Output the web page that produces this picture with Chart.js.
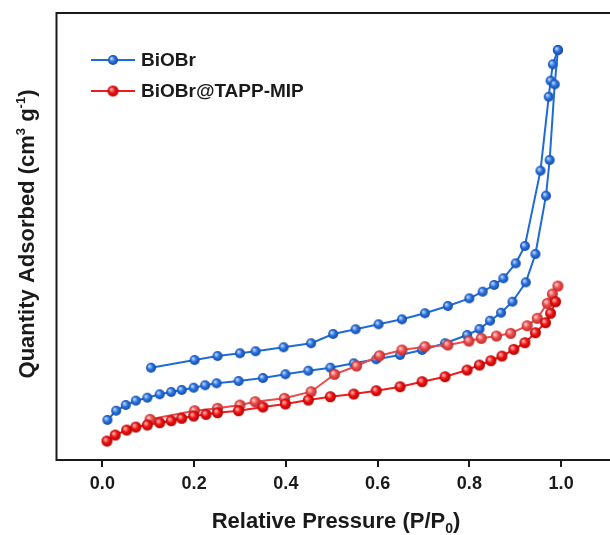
<!DOCTYPE html>
<html>
<head>
<meta charset="utf-8">
<script src="https://cdn.jsdelivr.net/npm/chart.js@4.4.1/dist/chart.umd.min.js"></script>
<style>
  html, body { margin: 0; padding: 0; background: #fff; overflow: hidden; }
  #wrap { width: 614px; height: 535px; }
</style>
</head>
<body>
<div id="wrap"><canvas id="c" width="614" height="535"></canvas></div>
<script>
// N2 adsorption-desorption isotherms (relative pressure vs. quantity adsorbed)
const seriesNames = ['BiOBr', 'BiOBr@TAPP-MIP'];
const xTicks = [0.0, 0.2, 0.4, 0.6, 0.8, 1.0];

// BiOBr - adsorption branch
const biobrAdsP = [0.011, 0.030, 0.051, 0.073, 0.098, 0.125, 0.150, 0.173, 0.199, 0.224, 0.249, 0.297, 0.350, 0.399,
  0.449, 0.497, 0.548, 0.597, 0.649, 0.697, 0.747, 0.795, 0.822, 0.845, 0.869, 0.894, 0.923, 0.944, 0.967, 0.975, 0.986, 0.993];
const biobrAdsQ = [8.95, 11.03, 12.30, 13.27, 13.94, 14.70, 15.21, 15.66, 16.17, 16.71, 17.16, 17.67, 18.34, 19.17,
  19.98, 20.65, 21.63, 22.53, 23.49, 24.61, 26.11, 27.96, 29.30, 31.16, 32.95, 35.41, 39.75, 46.08, 59.12, 67.11, 84.04, 91.72];

// BiOBr - desorption branch
const biobrDesP = [0.993, 0.982, 0.977, 0.973, 0.955, 0.921, 0.901, 0.874, 0.854, 0.829, 0.800, 0.753, 0.703, 0.653,
  0.602, 0.552, 0.503, 0.455, 0.395, 0.334, 0.300, 0.251, 0.201, 0.106];
const biobrDesQ = [91.72, 88.52, 84.85, 81.27, 64.72, 47.87, 44.00, 40.65, 39.15, 37.65, 36.17, 34.45, 32.82, 31.47,
  30.36, 29.24, 28.19, 26.11, 25.21, 24.32, 23.87, 23.26, 22.37, 20.65];

// BiOBr@TAPP-MIP - adsorption branch
const mipAdsP = [0.010, 0.028, 0.053, 0.073, 0.098, 0.125, 0.150, 0.173, 0.199, 0.226, 0.251, 0.297, 0.350, 0.399,
  0.449, 0.497, 0.548, 0.597, 0.649, 0.697, 0.747, 0.795, 0.822, 0.847, 0.871, 0.897, 0.921, 0.944, 0.966, 0.977, 0.988];
const mipAdsQ = [4.25, 5.59, 6.71, 7.38, 7.83, 8.34, 8.79, 9.33, 9.84, 10.22, 10.58, 11.03, 11.86, 12.53,
  13.42, 14.16, 14.76, 15.50, 16.40, 17.52, 18.63, 20.13, 21.25, 22.21, 23.26, 24.76, 26.24, 28.48, 30.71, 32.82, 35.41];

// BiOBr@TAPP-MIP - desorption branch
const mipDesP = [0.993, 0.981, 0.970, 0.948, 0.926, 0.890, 0.859, 0.826, 0.799, 0.753, 0.703, 0.653, 0.604, 0.554,
  0.506, 0.455, 0.397, 0.333, 0.300, 0.251, 0.201, 0.104];
const mipDesQ = [38.92, 37.13, 35.05, 31.70, 30.04, 28.34, 27.74, 27.22, 26.62, 25.73, 25.35, 24.61, 23.33, 21.03,
  19.17, 15.28, 13.80, 13.04, 12.30, 11.57, 11.03, 9.10];

const BLUE = '#1f6bd6';
const RED = '#ee1c1c';
const RED_LIGHT = '#ec4a4a';
const INK = '#1a1a1a';
const FONT = '"Liberation Sans", Arial, sans-serif';

// shaded sphere used as the marker glyph
function ball(r, light, base, dark) {
  const d = 2 * r + 2;
  const c = document.createElement('canvas');
  c.width = d; c.height = d;
  const g = c.getContext('2d');
  const cx = d / 2, cy = d / 2;
  const grd = g.createRadialGradient(cx - r * 0.35, cy - r * 0.35, r * 0.05, cx, cy, r);
  grd.addColorStop(0, light);
  grd.addColorStop(0.5, base);
  grd.addColorStop(1, dark);
  g.fillStyle = grd;
  g.beginPath();
  g.arc(cx, cy, r, 0, Math.PI * 2);
  g.fill();
  return c;
}
const blueBall = ball(5, '#cfe0ff', '#2a74e0', '#1248a8');
const redBall = ball(5.5, '#ffc4c4', '#f21414', '#b00000');
const redLightBall = ball(5.5, '#ffd6d6', '#ee5050', '#c02828');

function pts(px, qy) { return px.map((p, i) => ({ x: p, y: qy[i] })); }

function series(data, color, img) {
  return {
    data, borderColor: color, borderWidth: 2, pointStyle: img, pointRadius: 5,
    fill: false, tension: 0, showLine: true
  };
}

function drawParts(ctx, parts, cx, baseY) {
  let w = 0;
  parts.forEach(p => { ctx.font = p[1]; w += ctx.measureText(p[0]).width; });
  let x = cx - w / 2;
  ctx.textAlign = 'left';
  parts.forEach(p => {
    ctx.font = p[1];
    ctx.fillText(p[0], x, baseY + p[2]);
    x += ctx.measureText(p[0]).width;
  });
}

// legend, frame and axis titles with sub/superscripts
const decor = {
  id: 'decor',
  afterDraw(chart) {
    const ctx = chart.ctx;
    const a = chart.chartArea;
    ctx.save();
    // frame (left, top, bottom)
    ctx.strokeStyle = INK;
    ctx.lineWidth = 2;
    ctx.beginPath();
    ctx.moveTo(a.right + 4, a.top);
    ctx.lineTo(a.left, a.top);
    ctx.lineTo(a.left, a.bottom);
    ctx.lineTo(a.right + 4, a.bottom);
    ctx.stroke();

    // legend
    const rows = [
      { name: seriesNames[0], color: BLUE, img: blueBall, y: 60 },
      { name: seriesNames[1], color: RED, img: redBall, y: 91 }
    ];
    ctx.font = 'bold 19px ' + FONT;
    ctx.textBaseline = 'middle';
    ctx.fillStyle = INK;
    rows.forEach(r => {
      ctx.strokeStyle = r.color;
      ctx.lineWidth = 2;
      ctx.beginPath();
      ctx.moveTo(91, r.y);
      ctx.lineTo(135, r.y);
      ctx.stroke();
      ctx.drawImage(r.img, 113 - r.img.width / 2, r.y - r.img.height / 2);
      ctx.fillText(r.name, 141, r.y + 1);
    });

    // x title: Relative Pressure (P/P0)
    const fx = 'bold 22px ' + FONT;
    const fs = 'bold 14px ' + FONT;
    ctx.fillStyle = INK;
    ctx.textBaseline = 'alphabetic';
    drawParts(ctx, [['Relative Pressure (P/P', fx, 0], ['0', fs, 5], [')', fx, 0]], 336, 528);

    // y title: Quantity Adsorbed (cm3 g-1)
    ctx.translate(34, 234);
    ctx.rotate(-Math.PI / 2);
    const fy = 'bold 22px ' + FONT;
    const fsy = 'bold 13px ' + FONT;
    drawParts(ctx, [['Quantity Adsorbed (cm', fy, 0], ['3', fsy, -9], [' g', fy, 0], ['-1', fsy, -9], [')', fy, 0]], 0, 0);
    ctx.restore();
  }
};

new Chart(document.getElementById('c'), {
  type: 'line',
  data: {
    datasets: [
      series(pts(mipAdsP, mipAdsQ), RED, redBall),
      series(pts(mipDesP, mipDesQ), RED_LIGHT, redLightBall),
      series(pts(biobrAdsP, biobrAdsQ), BLUE, blueBall),
      series(pts(biobrDesP, biobrDesQ), BLUE, blueBall)
    ]
  },
  options: {
    responsive: false,
    animation: false,
    devicePixelRatio: 1,
    layout: { padding: { top: 13, right: 2, left: 0, bottom: 0 } },
    plugins: { legend: { display: false }, tooltip: { enabled: false } },
    scales: {
      x: {
        type: 'linear',
        min: -0.1,
        max: 1.1,
        afterBuildTicks: s => { s.ticks = xTicks.map(v => ({ value: v })); },
        afterFit: s => { s.height = 75; },
        ticks: {
          callback: v => Number(v).toFixed(1),
          font: { family: FONT, size: 18, weight: 'bold' },
          color: INK,
          padding: 6,
          maxRotation: 0
        },
        grid: { display: true, drawOnChartArea: false, drawTicks: true, tickLength: 7, lineWidth: 2, color: INK },
        border: { display: false }
      },
      y: {
        min: 0,
        max: 100,
        afterFit: s => { s.width = 56.5; },
        ticks: { display: false },
        grid: { display: false },
        border: { display: false }
      }
    }
  },
  plugins: [decor]
});
</script>
</body>
</html>
